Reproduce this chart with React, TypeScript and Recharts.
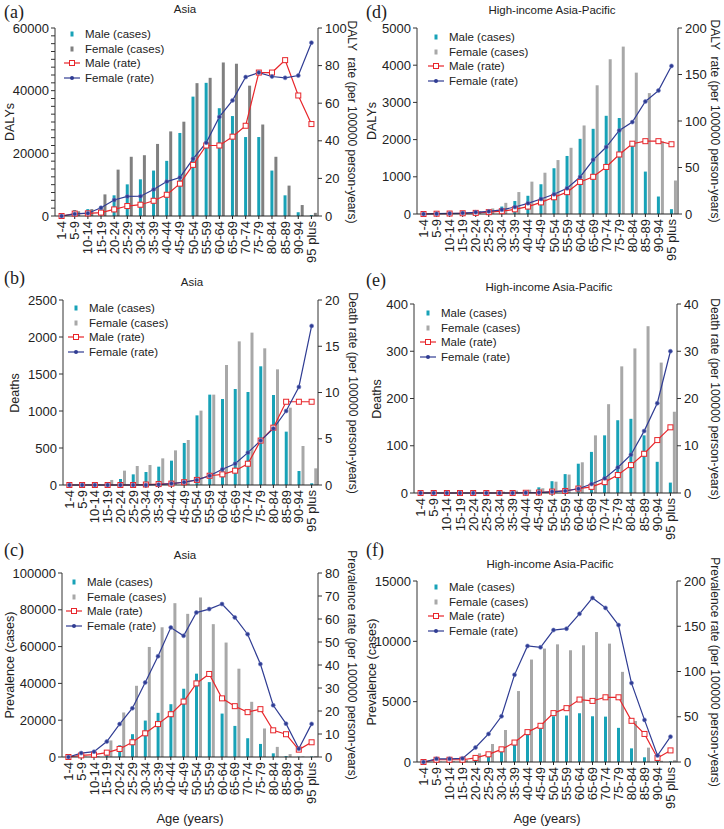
import { Bar, ComposedChart, Line, XAxis, YAxis } from 'recharts';

const ages = ['1-4', '5-9', '10-14', '15-19', '20-24', '25-29', '30-34', '35-39', '40-44', '45-49',
  '50-54', '55-59', '60-64', '65-69', '70-74', '75-79', '80-84', '85-89', '90-94', '95 plus'];

// (a) Asia DALYs
const asiaDalyMale = [200, 1900, 2200, 3000, 6600, 10100, 11700, 14500, 17600, 26500, 38100, 42500, 34400, 31900, 25200, 25200, 14500, 6600, 1200, 300];
const asiaDalyFemale = [300, 1500, 2200, 6900, 14800, 18900, 19400, 23000, 27000, 30100, 42400, 44100, 49000, 48600, 41600, 29200, 18900, 9700, 3500, 1000];
const asiaDalyRateMale = [0, 1.3, 1.4, 1.8, 3.5, 5.3, 6.0, 8.1, 11.3, 17.2, 27.2, 37.5, 37.5, 42.2, 48.0, 76.3, 76.3, 82.9, 64.1, 48.9];
const asiaDalyRateFemale = [0, 1.1, 1.5, 4.4, 8.5, 10.4, 10.5, 14.1, 18.3, 20.5, 30.4, 39.0, 52.7, 61.5, 73.9, 76.3, 74.2, 73.5, 74.7, 92.2];

// (b) Asia deaths
const asiaDeathMale = [0, 0, 5, 10, 81, 144, 176, 248, 329, 568, 941, 1221, 1162, 1297, 1257, 1604, 1216, 721, 189, 23];
const asiaDeathFemale = [0, 0, 10, 68, 194, 257, 270, 360, 468, 608, 1005, 1221, 1622, 1941, 2059, 1847, 1563, 1045, 527, 225];
const asiaDeathRateMale = [0, 0, 0, 0, 0, 0, 0.05, 0.1, 0.15, 0.3, 0.55, 1.0, 1.15, 1.55, 2.3, 4.8, 6.2, 9.0, 9.0, 9.0];
const asiaDeathRateFemale = [0, 0, 0, 0, 0, 0, 0, 0.05, 0.15, 0.3, 0.55, 1.0, 1.7, 2.3, 3.5, 4.8, 6.1, 8.0, 10.6, 17.2];

// (c) Asia prevalence
const asiaPrevMale = [0, 100, 200, 1500, 6400, 12400, 19800, 24000, 28700, 37100, 45300, 40700, 23600, 16900, 10200, 7100, 2000, 500, 200, 300];
const asiaPrevFemale = [0, 200, 500, 9000, 24200, 38700, 59800, 70500, 83600, 77800, 86700, 72200, 62200, 48000, 30000, 15500, 5500, 1600, 300, 500];
const asiaPrevRateMale = [0, 0.7, 1.0, 1.9, 3.5, 6.4, 10.3, 14.3, 18.6, 24.1, 32.0, 36.1, 25.5, 22.1, 19.5, 20.8, 11.6, 9.9, 3.2, 6.4];
const asiaPrevRateFemale = [0, 1.7, 2.3, 6.7, 14.3, 21.2, 32.4, 43.8, 56.3, 52.7, 62.8, 64.3, 66.5, 60.7, 53.4, 40.4, 22.5, 14.5, 3.6, 14.4];

// (d) High-income Asia-Pacific DALYs
const hiDalyMale = [0, 0, 10, 20, 40, 100, 200, 350, 490, 800, 1230, 1560, 2020, 2290, 2640, 2580, 1950, 1140, 470, 130];
const hiDalyFemale = [0, 10, 20, 40, 80, 150, 300, 590, 870, 1110, 1450, 1780, 2380, 3460, 4160, 4500, 3800, 3250, 1950, 900];
const hiDalyRateMale = [0, 0.3, 0.5, 0.8, 1.2, 2, 3, 5, 8, 12.5, 18, 23.5, 34.5, 40, 50.6, 64, 75.6, 78.3, 78.3, 75];
const hiDalyRateFemale = [0, 0.3, 0.6, 1, 1.8, 2.8, 4.5, 7.5, 11.5, 16.1, 21.2, 27.7, 39.8, 58.3, 72, 89.8, 98.8, 121, 132.7, 159.2];

// (e) High-income Asia-Pacific deaths
const hiDeathMale = [0, 0, 0, 0, 0, 0, 1, 2, 4, 12, 25, 40, 62, 87, 122, 154, 157, 122, 66, 22];
const hiDeathFemale = [0, 0, 0, 0, 0, 1, 3, 5, 7, 10, 24, 39, 65, 122, 188, 268, 306, 353, 276, 172];
const hiDeathRateMale = [0, 0, 0, 0, 0, 0, 0, 0, 0.05, 0.1, 0.3, 0.43, 0.94, 1.3, 2.3, 3.8, 5.9, 8.3, 11.2, 13.9];
const hiDeathRateFemale = [0, 0, 0, 0, 0, 0, 0, 0, 0.05, 0.1, 0.25, 0.43, 0.9, 1.9, 3.1, 5.4, 8.1, 13.1, 19.0, 30.0];

// (f) High-income Asia-Pacific prevalence
const hiPrevMale = [0, 20, 30, 80, 200, 440, 850, 1590, 2470, 3020, 3790, 3850, 4040, 3790, 3760, 2830, 1130, 390, 100, 50];
const hiPrevFemale = [0, 30, 60, 200, 720, 1490, 2650, 5880, 8490, 9400, 9750, 9260, 9670, 10770, 9810, 7470, 3400, 1190, 100, 150];
const hiPrevRateMale = [0, 2.5, 2.5, 2.5, 4.5, 8.5, 14, 21.5, 33, 40, 54, 59.5, 69, 67.5, 71.5, 71.5, 45.5, 31, 4.5, 12.8];
const hiPrevRateFemale = [0, 3.5, 3.5, 4, 16, 31, 50.5, 96.3, 128.2, 126.7, 145.8, 147.3, 163.7, 181.3, 170.3, 151.3, 87.2, 46.5, 7.2, 28];

const MALE = '#18a2b7';
const GREY = '#a8a8a8';
const GREY_DARK = '#808080';
const RED = '#e8262b';
const BLUE = '#2f3c93';
const FONT = '"Liberation Sans", Arial, sans-serif';
const INK = '#222';

const AgeTick = ({ x, y, payload }: any) => (
  <text
    x={x}
    y={y}
    transform={`rotate(-90 ${x} ${y})`}
    textAnchor="end"
    dominantBaseline="central"
    fontSize={13}
    fill={INK}
    fontFamily={FONT}
  >
    {payload.value}
  </text>
);

const SquareDot = ({ cx, cy, index }: any) => (
  <rect key={`s-${index}`} x={cx - 2.5} y={cy - 2.5} width={5} height={5} fill="#fff" stroke={RED} strokeWidth={1} />
);

const RoundDot = ({ cx, cy, index }: any) => (
  <circle key={`c-${index}`} cx={cx} cy={cy} r={2} fill={BLUE} stroke="#6c78bd" strokeWidth={0.6} />
);

const LegendBox = ({ x, y, female }: { x: number; y: number; female: string }) => {
  const items = [
    { label: 'Male (cases)', kind: 'bar', color: MALE },
    { label: 'Female (cases)', kind: 'bar', color: female },
    { label: 'Male (rate)', kind: 'square', color: RED },
    { label: 'Female (rate)', kind: 'dot', color: BLUE },
  ];
  return (
    <div style={{ position: 'absolute', left: x - 8, top: y - 7.35, fontFamily: FONT, fontSize: 11.5, color: INK }}>
      {items.map((it) => (
        <div key={it.label} style={{ display: 'flex', alignItems: 'center', height: 14.7, whiteSpace: 'nowrap' }}>
          <svg width={16} height={14} style={{ marginRight: 5 }}>
            {it.kind === 'bar' && <rect x={6.5} y={4.5} width={3} height={5} fill={it.color} />}
            {it.kind !== 'bar' && <line x1={0} x2={16} y1={7} y2={7} stroke={it.color} strokeWidth={1.2} />}
            {it.kind === 'square' && <rect x={5.5} y={4.5} width={5} height={5} fill="#fff" stroke={RED} />}
            {it.kind === 'dot' && <circle cx={8} cy={7} r={2} fill={BLUE} />}
          </svg>
          {it.label}
        </div>
      ))}
    </div>
  );
};

type PanelProps = {
  x: number; y: number; w: number; h: number;
  letter: string; title: string; titleX: number; titleY: number; letterY: number;
  plotTop: number; plotBottom: number; lw: number; rw: number;
  male: number[]; female: number[]; maleRate: number[]; femaleRate: number[];
  lMax: number; lTicks: number[]; lMajor?: number; rMax: number; rTicks: number[];
  leftLabel: string; rightLabel: string; leftLabelX: number; rightLabelX: number;
  legendX: number; legendY: number; femaleColor: string; xLabel?: boolean;
};

const Panel = (p: PanelProps) => {
  const rows = ages.map((age, i) => ({
    age,
    spacer: 0,
    male: p.male[i],
    female: p.female[i],
    maleRate: p.maleRate[i],
    femaleRate: p.femaleRate[i],
  }));
  const midY = (p.plotTop + p.plotBottom) / 2;
  const tickStyle = { fontSize: 13, fill: INK, fontFamily: FONT };
  return (
    <div style={{ position: 'absolute', left: p.x, top: p.y, width: p.w, height: p.h }}>
      <ComposedChart
        width={p.w}
        height={p.h}
        data={rows}
        margin={{ top: p.plotTop, right: 0, bottom: 0, left: 0 }}
        barSize={3}
        barGap={1}
        barCategoryGap={0}
      >
        <XAxis
          dataKey="age"
          interval={0}
          height={p.h - p.plotBottom}
          tick={<AgeTick />}
          tickSize={3}
          tickMargin={2}
          stroke={INK}
        />
        <YAxis
          yAxisId="l"
          width={p.lw}
          domain={[0, p.lMax]}
          ticks={p.lTicks}
          interval={0}
          tickSize={4}
          tickMargin={2}
          tick={tickStyle}
          stroke="#333"
          tickFormatter={(v: number) => (p.lMajor && v % p.lMajor !== 0 ? '' : String(v))}
        />
        <YAxis
          yAxisId="r"
          orientation="right"
          width={p.rw}
          domain={[0, p.rMax]}
          ticks={p.rTicks}
          interval={0}
          tickSize={4}
          tickMargin={3}
          tick={tickStyle}
          stroke="#333"
        />
        <Bar yAxisId="l" dataKey="spacer" fill="none" legendType="none" isAnimationActive={false} />
        <Bar yAxisId="l" dataKey="male" fill={MALE} isAnimationActive={false} />
        <Bar yAxisId="l" dataKey="female" fill={p.femaleColor} isAnimationActive={false} />
        <Line
          yAxisId="r"
          dataKey="maleRate"
          type="linear"
          stroke={RED}
          strokeWidth={1.2}
          dot={SquareDot}
          isAnimationActive={false}
        />
        <Line
          yAxisId="r"
          dataKey="femaleRate"
          type="linear"
          stroke={BLUE}
          strokeWidth={1.2}
          dot={RoundDot}
          isAnimationActive={false}
        />
      </ComposedChart>

      <div style={{ position: 'absolute', left: 4, top: p.letterY, transform: 'translateY(-50%)', fontFamily: '"Liberation Serif", serif', fontSize: 18, color: INK }}>
        {p.letter}
      </div>
      <div style={{ position: 'absolute', left: p.titleX, top: p.titleY, transform: 'translate(-50%, -50%)', fontFamily: FONT, fontSize: 11.5, color: INK, whiteSpace: 'nowrap' }}>
        {p.title}
      </div>
      <div style={{ position: 'absolute', left: p.leftLabelX, top: midY, transform: 'translate(-50%, -50%) rotate(-90deg)', fontFamily: FONT, fontSize: 12.5, color: INK, whiteSpace: 'nowrap' }}>
        {p.leftLabel}
      </div>
      <div style={{ position: 'absolute', left: p.rightLabelX, top: midY, transform: 'translate(-50%, -50%) rotate(90deg)', fontFamily: FONT, fontSize: 12, color: INK, whiteSpace: 'pre' }}>
        {p.rightLabel}
      </div>
      {p.xLabel && (
        <div style={{ position: 'absolute', left: (p.lw + p.w - p.rw) / 2, top: 278, transform: 'translate(-50%, -50%)', fontFamily: FONT, fontSize: 13, color: INK, whiteSpace: 'nowrap' }}>
          Age (years)
        </div>
      )}
      <LegendBox x={p.legendX} y={p.legendY} female={p.femaleColor} />
    </div>
  );
};

const range = (max: number, step: number) => Array.from({ length: max / step + 1 }, (_, i) => i * step);

export default function App() {
  return (
    <div style={{ position: 'absolute', left: 0, top: 0, width: 724, height: 829, background: '#fff', overflow: 'hidden' }}>
      <Panel
        x={0} y={0} w={362} h={265} letter="(a)" title="Asia" titleX={185} titleY={9} letterY={12}
        plotTop={28} plotBottom={216} lw={55} rw={44}
        male={asiaDalyMale} female={asiaDalyFemale} maleRate={asiaDalyRateMale} femaleRate={asiaDalyRateFemale}
        lMax={60000} lTicks={range(60000, 2500)} lMajor={20000} rMax={100} rTicks={range(100, 20)}
        leftLabel="DALYs" rightLabel="DALY  rate (per 100000 person-years)" leftLabelX={10} rightLabelX={352}
        legendX={72} legendY={34} femaleColor={GREY_DARK}
      />
      <Panel
        x={0} y={265} w={362} h={275} letter="(b)" title="Asia" titleX={192} titleY={17} letterY={13}
        plotTop={35} plotBottom={220} lw={63} rw={44}
        male={asiaDeathMale} female={asiaDeathFemale} maleRate={asiaDeathRateMale} femaleRate={asiaDeathRateFemale}
        lMax={2500} lTicks={range(2500, 500)} rMax={20} rTicks={range(20, 5)}
        leftLabel="Deaths" rightLabel="Death rate (per 100000 person-years)" leftLabelX={15} rightLabelX={353}
        legendX={76} legendY={43} femaleColor={GREY}
      />
      <Panel
        x={0} y={540} w={362} h={289} letter="(c)" title="Asia" titleX={185} titleY={15} letterY={10}
        plotTop={33} plotBottom={217} lw={62} rw={44}
        male={asiaPrevMale} female={asiaPrevFemale} maleRate={asiaPrevRateMale} femaleRate={asiaPrevRateFemale}
        lMax={100000} lTicks={range(100000, 20000)} rMax={80} rTicks={range(80, 10)}
        leftLabel="Prevalence (cases)" rightLabel="Prevalence rate (per 100000 person-years)" leftLabelX={10} rightLabelX={352}
        legendX={74} legendY={42} femaleColor={GREY} xLabel
      />
      <Panel
        x={362} y={0} w={362} h={265} letter="(d)" title="High-income Asia-Pacific" titleX={190} titleY={10} letterY={12}
        plotTop={28} plotBottom={214} lw={55} rw={46}
        male={hiDalyMale} female={hiDalyFemale} maleRate={hiDalyRateMale} femaleRate={hiDalyRateFemale}
        lMax={5000} lTicks={range(5000, 1000)} rMax={200} rTicks={range(200, 50)}
        leftLabel="DALYs" rightLabel="DALY  rate (per 100000 person-years)" leftLabelX={10} rightLabelX={353}
        legendX={74} legendY={37} femaleColor={GREY}
      />
      <Panel
        x={362} y={265} w={362} h={275} letter="(e)" title="High-income Asia-Pacific" titleX={187} titleY={22} letterY={15}
        plotTop={39} plotBottom={228} lw={52} rw={47}
        male={hiDeathMale} female={hiDeathFemale} maleRate={hiDeathRateMale} femaleRate={hiDeathRateFemale}
        lMax={400} lTicks={range(400, 100)} rMax={40} rTicks={range(40, 10)}
        leftLabel="Deaths" rightLabel="Death rate (per 100000 person-years)" leftLabelX={15} rightLabelX={353}
        legendX={66} legendY={48} femaleColor={GREY}
      />
      <Panel
        x={362} y={540} w={362} h={289} letter="(f)" title="High-income Asia-Pacific" titleX={188} titleY={24} letterY={10}
        plotTop={41} plotBottom={222} lw={55} rw={47}
        male={hiPrevMale} female={hiPrevFemale} maleRate={hiPrevRateMale} femaleRate={hiPrevRateFemale}
        lMax={15000} lTicks={range(15000, 5000)} rMax={200} rTicks={range(200, 50)}
        leftLabel="Prevalence (cases)" rightLabel="Prevalence rate (per 100000 person-years)" leftLabelX={10} rightLabelX={353}
        legendX={74} legendY={47} femaleColor={GREY} xLabel
      />
    </div>
  );
}
